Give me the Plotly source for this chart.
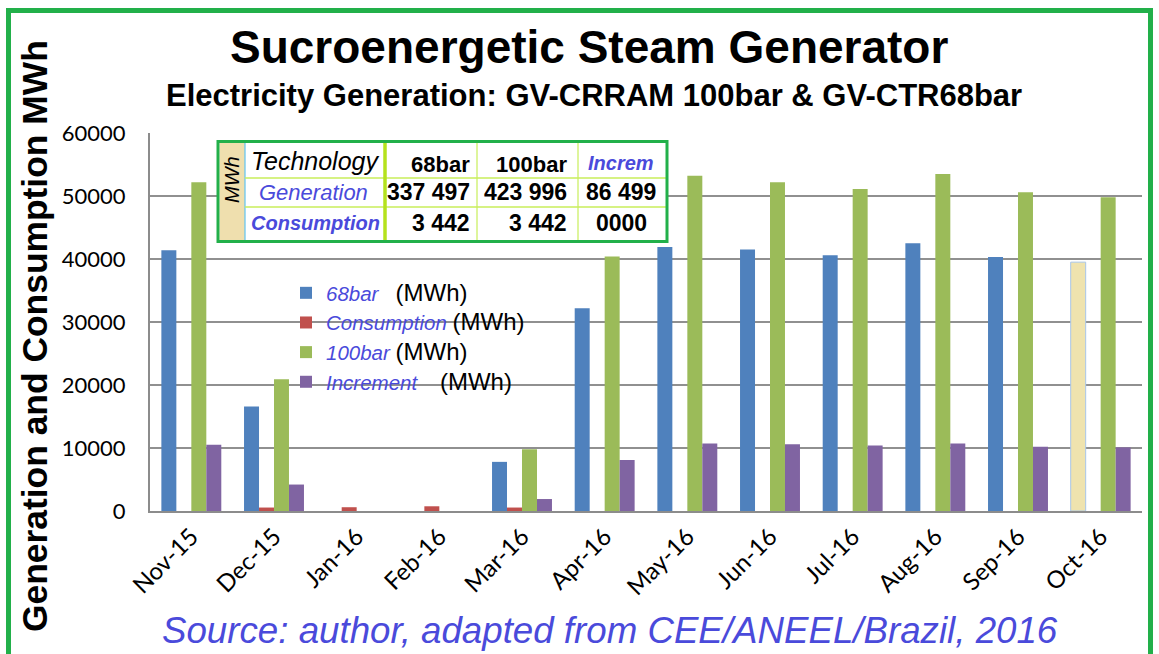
import plotly.graph_objects as go

months = ["Nov-15", "Dec-15", "Jan-16", "Feb-16", "Mar-16", "Apr-16",
          "May-16", "Jun-16", "Jul-16", "Aug-16", "Sep-16", "Oct-16"]
bar68 = [41400, 16600, 0, 0, 7800, 32200, 41900, 41500, 40600, 42500, 40300, 39500]
consumption = [0, 550, 600, 750, 550, 0, 0, 0, 0, 0, 0, 0]
bar100 = [52200, 20900, 0, 0, 9800, 40400, 53200, 52200, 51100, 53500, 50600, 49800]
increment = [10500, 4200, 0, 0, 1900, 8100, 10700, 10600, 10400, 10700, 10200, 10100]

table_cols = ["68bar", "100bar", "Increm"]
table_generation = ["337 497", "423 996", "86 499"]
table_consumption = ["3 442", "3 442", "0000"]

BLUE, RED, GREEN, PURPLE = "#4F81BD", "#C0504D", "#9BBB59", "#8064A2"
TXTBLUE = "#4A4ADB"
FRAME = "#22B04A"

L, R, T, B = 150, 1142, 133, 511
W, H = R - L, B - T


def px(x):
    return (x - L) / W


def py(y):
    return (B - y) / H


c68 = [BLUE] * len(months)
c68[-1] = "#EFE3AE"
l68 = [BLUE] * len(months)
l68[-1] = "#A9C6E8"
w68 = [0] * len(months)
w68[-1] = 1

MWH = "<span style='font-size:24px'>(MWh)</span>"

fig = go.Figure()
fig.add_trace(go.Bar(x=months, y=bar68, marker=dict(color=c68, line=dict(color=l68, width=w68)),
                     name=f"<span style='color:{TXTBLUE}'><i>68bar</i></span>\u00a0\u00a0\u00a0{MWH}",
                     legendgroup="a"))
fig.add_trace(go.Bar(x=months, y=consumption, marker=dict(color=RED, line=dict(width=0)),
                     name=f"<span style='color:{TXTBLUE}'><i>Consumption</i></span>\u00a0{MWH}",
                     legendgroup="b"))
fig.add_trace(go.Bar(x=months, y=bar100, marker=dict(color=GREEN, line=dict(width=0)),
                     name=f"<span style='color:{TXTBLUE}'><i>100bar</i></span>\u00a0{MWH}",
                     legendgroup="c"))
fig.add_trace(go.Bar(x=months, y=increment, marker=dict(color=PURPLE, line=dict(width=0)),
                     name=f"<span style='color:{TXTBLUE}'><i>Increment</i></span>\u00a0\u00a0\u00a0\u00a0{MWH}",
                     legendgroup="d"))

shapes = []
# outer frame
shapes.append(dict(type="rect", xref="paper", yref="paper",
                   x0=px(8.5), x1=px(1150.5), y0=py(668), y1=py(10.5),
                   line=dict(color=FRAME, width=5), layer="above"))
# table
tx0, tx1, ty0, ty1 = 218, 667, 141.5, 241.5
shapes.append(dict(type="rect", xref="paper", yref="paper",
                   x0=px(tx0), x1=px(tx1), y0=py(ty1), y1=py(ty0),
                   fillcolor="white", line=dict(width=0), layer="above"))
shapes.append(dict(type="rect", xref="paper", yref="paper",
                   x0=px(219.5), x1=px(245), y0=py(240), y1=py(143),
                   fillcolor="#EFDFAE", line=dict(width=0), layer="above"))
shapes.append(dict(type="line", xref="paper", yref="paper",
                   x0=px(245), x1=px(245), y0=py(240), y1=py(143),
                   line=dict(color="#5FC3F0", width=1.2), layer="above"))
for yy in (178, 207):
    shapes.append(dict(type="line", xref="paper", yref="paper",
                       x0=px(245), x1=px(666), y0=py(yy), y1=py(yy),
                       line=dict(color="#C8EE5A", width=1.5), layer="above"))
for xx in (477, 578):
    shapes.append(dict(type="line", xref="paper", yref="paper",
                       x0=px(xx), x1=px(xx), y0=py(240), y1=py(143),
                       line=dict(color="#C8EE5A", width=1.2), layer="above"))
shapes.append(dict(type="line", xref="paper", yref="paper",
                   x0=px(385), x1=px(385), y0=py(240), y1=py(143),
                   line=dict(color="#B5E21D", width=3.5), layer="above"))
shapes.append(dict(type="rect", xref="paper", yref="paper",
                   x0=px(tx0), x1=px(tx1), y0=py(ty1), y1=py(ty0),
                   line=dict(color=FRAME, width=3), layer="above"))

ann = []


def text(x, y, s, size, color="black", xanchor="center", angle=0, family="Liberation Sans, Arial, sans-serif"):
    ann.append(dict(x=px(x), y=py(y), xref="paper", yref="paper", text=s, showarrow=False,
                    xanchor=xanchor, yanchor="middle", textangle=angle,
                    font=dict(size=size, color=color, family=family)))


text(589, 47, "<b>Sucroenergetic Steam Generator</b>", 46)
text(594, 95, "<b>Electricity Generation: GV-CRRAM 100bar &amp; GV-CTR68bar</b>", 31)
text(35, 336, "<b>Generation and Consumption MWh</b>", 35.4, angle=-90)
text(610, 630, "<i>Source: author, adapted from CEE/ANEEL/Brazil, 2016</i>", 36.7, color=TXTBLUE)

# table texts
text(232, 180, "<i>MWh</i>", 20, angle=-90)
text(315, 161, "<i>Technology</i>", 25)
text(313, 192, "<i>Generation</i>", 22, color=TXTBLUE)
text(315, 223, "<b><i>Consumption</i></b>", 20, color=TXTBLUE)
col_x = [(472, "right"), (569, "right"), (621, "center")]
for (cx, anc), h, g, c in zip(col_x, table_cols, table_generation, table_consumption):
    if h == "Increm":
        text(cx, 163, f"<b><i>{h}</i></b>", 20, color=TXTBLUE, xanchor=anc)
    else:
        text(cx, 164, f"<b>{h}</b>", 22, xanchor=anc)
    text(cx, 192, f"<b>{g}</b>", 23, xanchor=anc)
    text(cx, 223, f"<b>{c}</b>", 23, xanchor=anc)

fig.update_layout(
    width=1159, height=654,
    margin=dict(l=L, r=1159 - R, t=T, b=654 - B, pad=0),
    paper_bgcolor="white", plot_bgcolor="white",
    barmode="group", bargap=0.275, bargroupgap=0,
    font=dict(family="Liberation Sans, Arial, sans-serif", color="black"),
    showlegend=True,
    legend=dict(x=px(286), y=py(273), xanchor="left", yanchor="top",
                bgcolor="rgba(0,0,0,0)", borderwidth=0,
                font=dict(size=20.5, color="black", family="Liberation Sans, Arial, sans-serif"),
                traceorder="grouped", tracegroupgap=0, itemclick=False),
    shapes=shapes, annotations=ann,
    xaxis=dict(showline=True, linecolor="#8C8C8C", linewidth=2, ticks="",
               tickangle=-45, tickfont=dict(family="Lato", size=24, color="black"),
               showgrid=False),
    yaxis=dict(range=[0, 60000], dtick=10000, showline=True, linecolor="#8C8C8C", linewidth=2,
               showgrid=True, gridcolor="#909090", gridwidth=1.5, zeroline=False,
               ticks="", tickformat="d", ticklabelstandoff=18,
               tickfont=dict(family="Lato", size=22, color="black")),
)

fig.write_html("out.html", config={"displayModeBar": False},
               post_script="document.body.style.margin='0';document.body.style.overflow='hidden';")
